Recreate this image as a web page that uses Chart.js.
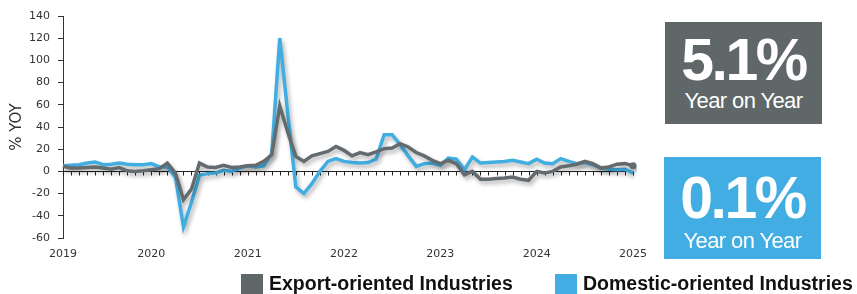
<!DOCTYPE html>
<html>
<head>
<meta charset="utf-8">
<script src="https://cdn.jsdelivr.net/npm/chart.js@4.4.0/dist/chart.umd.min.js"></script>
<style>
    html, body { margin: 0; padding: 0; background: #fff; }
    #wrap { position: relative; width: 857px; height: 294px; }
    #chart { position: absolute; left: 0; top: 0; }
    .stat { position: absolute; width: 157px; height: 102px; color: #fff; font-family: 'Liberation Sans', Arial, sans-serif; }
    .stat div { position: absolute; left: 0; width: 100%; text-align: center; white-space: nowrap; }
    .stat .big { font-weight: bold; font-size: 59px; line-height: 59px; letter-spacing: -2.5px; }
    .stat .small { font-size: 22px; line-height: 22px; letter-spacing: -0.6px; }
    .legend { position: absolute; top: 274px; height: 20px; font-family: 'Liberation Sans', Arial, sans-serif; font-weight: bold; font-size: 19.5px; color: #111; white-space: nowrap; }
    .legend span.box { position: absolute; left: 0; top: 0; width: 22px; height: 20px; }
    .legend span.txt { position: absolute; left: 28px; top: -2px; line-height: 22px; }
</style>
</head>
<body>
<div id="wrap">
    <canvas id="chart" width="857" height="294"></canvas>
    <div class="stat" style="left:665px;top:22px;background:#5f6769;">
        <div class="big" id="statExport" style="top:9px;"></div>
        <div class="small" style="top:68px;">Year on Year</div>
    </div>
    <div class="stat" style="left:664px;top:157px;background:#42ade2;">
        <div class="big" id="statDomestic" style="top:12px;"></div>
        <div class="small" style="top:73px;">Year on Year</div>
    </div>
    <div class="legend" style="left:241px;"><span class="box" style="background:#5f6769;"></span><span class="txt" id="legExport"></span></div>
    <div class="legend" style="left:555px;"><span class="box" style="background:#42ade2;"></span><span class="txt" id="legDomestic"></span></div>
</div>
<script>
// Series names and latest readings
const seriesNames = ['Export-oriented Industries', 'Domestic-oriented Industries'];
const latestYoY = ['5.1%', '0.1%'];

// Monthly categories, Jan 2019 - Dec 2024
const months = [];
for (let y = 2019; y <= 2024; y++) {
    for (let m = 1; m <= 12; m++) {
        months.push(y + '-' + String(m).padStart(2, '0'));
    }
}

// Year labels and the month index they sit under
const yearLabels = ['2019', '2020', '2021', '2022', '2023', '2024', '2025'];
const yearLabelIdx = [0, 11, 23, 35, 47, 59, 71];

// %YoY values
const exportYoY = [
    4.5, 3, 3, 3.5, 4, 3, 2, 3.5, 0.5, 0, 0.5, 1.5,
    2.5, 7.5, -1.5, -25.5, -16, 7.5, 4, 3.5, 5.5, 3.5, 4, 5,
    5.5, 9, 15, 59, 35, 13.5, 9, 14, 16, 18, 22.5, 19,
    14, 17, 15, 17.5, 20.5, 21, 25, 22, 17, 14, 10, 7,
    10, 7, -3, 0, -7, -7, -6.5, -6, -5, -7, -8, 0,
    -1.5, 0, 4, 5, 6.5, 9, 7, 3, 4, 6.5, 7, 5.1
];
const domesticYoY = [
    5, 5.5, 6, 7.5, 8.5, 6, 6.5, 7.5, 6.5, 6, 6, 7,
    4, 4, -5, -50, -28, -3.5, -2, -1.5, 1, 0, 3, 5,
    4, 5, 16, 120, 52, -14, -20, -11, 0, 9, 11.5, 9,
    8, 7.5, 8, 11, 33, 33, 24, 14, 4.5, 7, 7.5, 5.5,
    12, 11, 1.5, 13, 7.5, 8, 8.5, 9, 10, 8.5, 7, 11,
    7.5, 7, 11.5, 9, 7, 8, 6, 3, 2, 1.5, 2, -1.5
];

const yTicks = { min: -60, max: 140, step: 20 };

const greyColor = '#636b6e';
const blueColor = '#41aee1';

document.getElementById('statExport').textContent = latestYoY[0];
document.getElementById('statDomestic').textContent = latestYoY[1];
document.getElementById('legExport').textContent = seriesNames[0];
document.getElementById('legDomestic').textContent = seriesNames[1];

// Zero line with monthly tick marks, plus soft shadow under the lines
const zeroAxisPlugin = {
    id: 'zeroAxis',
    beforeDatasetsDraw(chart) {
        const ctx = chart.ctx;
        const x = chart.scales.x;
        const y0 = Math.round(chart.scales.y.getPixelForValue(0)) + 0.5;
        ctx.save();
        ctx.strokeStyle = '#222';
        ctx.lineWidth = 1;
        ctx.beginPath();
        ctx.moveTo(chart.chartArea.left, y0);
        ctx.lineTo(chart.chartArea.right, y0);
        for (let i = 0; i < months.length; i++) {
            const px = Math.round(x.getPixelForValue(i)) + 0.5;
            ctx.moveTo(px, y0);
            ctx.lineTo(px, y0 + 4);
        }
        ctx.stroke();
        ctx.restore();

        ctx.save();
        ctx.shadowColor = 'rgba(0, 0, 0, 0.3)';
        ctx.shadowBlur = 4;
        ctx.shadowOffsetX = 2;
        ctx.shadowOffsetY = 3;
    },
    afterDatasetsDraw(chart) {
        chart.ctx.restore();
    }
};

const ctx = document.getElementById('chart').getContext('2d');
new Chart(ctx, {
    type: 'line',
    data: {
        labels: months,
        datasets: [
            {
                label: seriesNames[0],
                data: exportYoY,
                borderColor: greyColor,
                backgroundColor: greyColor,
                borderWidth: 3.5,
                tension: 0,
                pointRadius: (c) => (c.dataIndex === exportYoY.length - 1 ? 3.5 : 0),
                pointBorderWidth: 0,
            },
            {
                label: seriesNames[1],
                data: domesticYoY,
                borderColor: blueColor,
                backgroundColor: blueColor,
                borderWidth: 3.5,
                tension: 0,
                pointRadius: 0,
            },
        ],
    },
    options: {
        responsive: false,
        animation: false,
        layout: {
            padding: { top: 16, right: 224, bottom: 32, left: 0 },
        },
        plugins: {
            legend: { display: false },
            tooltip: { enabled: false },
        },
        scales: {
            x: {
                grid: { display: false, drawTicks: false },
                border: { display: false },
                ticks: {
                    autoSkip: false,
                    maxRotation: 0,
                    padding: 10,
                    color: '#333',
                    font: { family: 'DejaVu Sans', size: 11 },
                    callback: (val, idx) => {
                        const k = yearLabelIdx.indexOf(idx);
                        return k >= 0 ? yearLabels[k] : '';
                    },
                },
                afterFit: (s) => { s.height = 24; },
            },
            y: {
                min: yTicks.min,
                max: yTicks.max,
                grid: { drawOnChartArea: false, drawTicks: true, tickLength: 5, color: '#333' },
                border: { display: true, color: '#333' },
                ticks: {
                    stepSize: yTicks.step,
                    padding: 8,
                    color: '#333',
                    font: { family: 'DejaVu Sans', size: 11 },
                },
                title: {
                    display: true,
                    text: '% YOY',
                    color: '#333',
                    font: { family: 'DejaVu Sans', size: 15 },
                    padding: { top: 8, bottom: 0 },
                },
                afterFit: (s) => { s.width = 63; },
            },
        },
    },
    plugins: [zeroAxisPlugin],
});
</script>
</body>
</html>
